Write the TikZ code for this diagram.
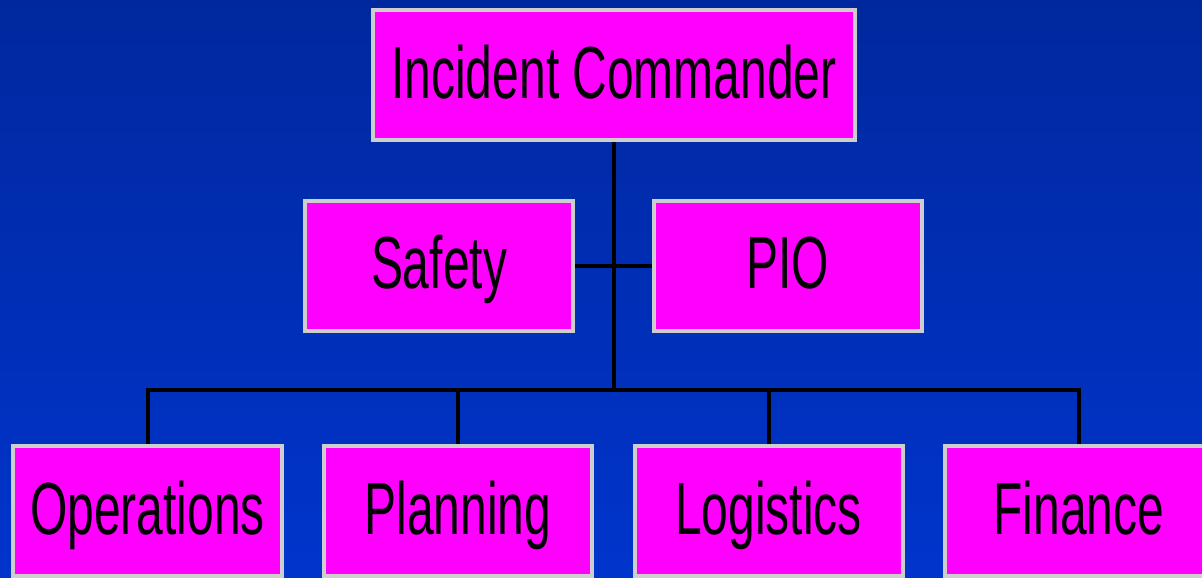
\documentclass[tikz,border=0pt]{standalone}
\usepackage{fontspec}
\setmainfont[FakeStretch=0.65]{Liberation Sans}
\definecolor{bgtop}{RGB}{0,40,158}
\definecolor{bgbot}{RGB}{0,52,204}
\definecolor{boxfill}{RGB}{255,0,255}
\definecolor{boxedge}{RGB}{206,206,206}
\begin{document}
\begin{tikzpicture}[link/.style={black, line width=0.08cm}]

\useasboundingbox (0,0) rectangle (24.04,-11.54);
\clip (0,0) rectangle (24.04,-11.54);
\shade[top color=bgtop, bottom color=bgbot] (0,0) rectangle (24.04,-11.54);

\begin{scope}[every node/.style={draw=boxedge,fill=boxfill,line width=0.08cm,shape=rectangle,
    minimum width=5.36cm,minimum height=2.6cm,inner sep=0pt,text height=1.1cm,text depth=0.18cm,
    font=\fontsize{42}{50}\selectfont}]
    \path (12.28,-1.5) node[minimum width=9.64cm] (commander) {Incident Commander};
    \path (commander) +(-3.5,-3.81) node (safety) {Safety};
    \path (commander) +(3.47,-3.81) node (pio) {PIO};
    \path (commander) +(-9.33,-8.72) node (operations) {Operations};
    \path (operations) +(6.21,0) node (planning) {Planning};
    \path (planning) +(6.21,0) node (logistics) {Logistics};
    \path (logistics) +(6.21,0) node (finance) {Finance};
\end{scope}

\path (commander.south) +(0,-4.96) coordinate (hub);

\draw[link] (commander.south) -- (hub);
\draw[link] (safety.east) -- (pio.west);
\draw[link] (operations.north) -- (operations.north |- hub) -- (finance.north |- hub) -- (finance.north);
\draw[link] (planning.north) -- (planning.north |- hub);
\draw[link] (logistics.north) -- (logistics.north |- hub);

\end{tikzpicture}
\end{document}
